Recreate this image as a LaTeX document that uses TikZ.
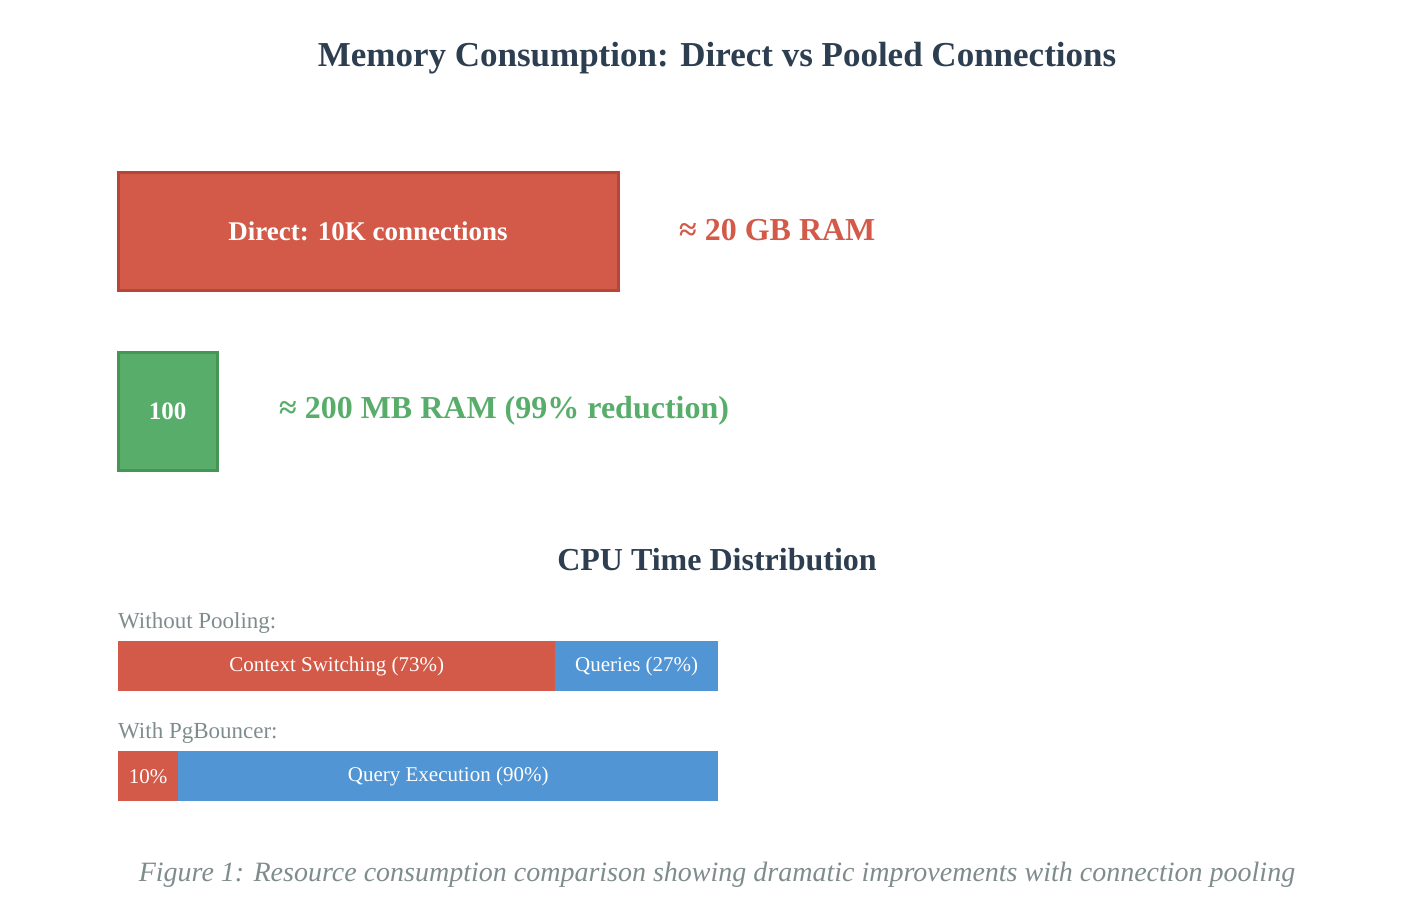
\documentclass[tikz,border=0pt]{standalone}
\usepackage{fontspec}
\setmainfont{Liberation Serif}
\definecolor{ink}{HTML}{2C3E50}
\definecolor{redf}{HTML}{D35A48}
\definecolor{redb}{HTML}{B5473A}
\definecolor{greenf}{HTML}{58AD6A}
\definecolor{greenb}{HTML}{479457}
\definecolor{bluef}{HTML}{5195D5}
\definecolor{grayt}{HTML}{7F8C8D}
\begin{document}
\begin{tikzpicture}[x=1pt,y=-1pt,
  box/.style={draw,line width=3pt,inner sep=0pt},
  bar/.style={inner sep=0pt,minimum height=50pt,text=white,font=\fontsize{21}{24}\selectfont},
  lbl/.style={anchor=west,text=grayt,font=\fontsize{23}{26}\selectfont,inner sep=0pt}]
\useasboundingbox (0,0) rectangle (1410,910);
\node[text=ink,font=\bfseries\fontsize{35}{40}\selectfont] (title) at (717,58) {Memory Consumption: Direct vs Pooled Connections};
\node[box,draw=redb,fill=redf,minimum width=500pt,minimum height=118pt,text=white,font=\bfseries\fontsize{27}{30}\selectfont] (direct) at (368,231) {Direct: 10K connections};
\node[anchor=west,inner sep=0pt,text=redf,font=\bfseries\fontsize{32}{36}\selectfont] (dram) at (679,230) {≈ 20 GB RAM};
\node[box,draw=greenb,fill=greenf,minimum width=99pt,minimum height=118pt,text=white,font=\bfseries\fontsize{25}{28}\selectfont] (pooled) at (167.5,411) {100};
\node[anchor=west,inner sep=0pt,text=greenf,font=\bfseries\fontsize{32}{36}\selectfont] (pram) at (279,411) {≈ 200 MB RAM (99\% reduction)};
\node[text=ink,font=\bfseries\fontsize{32}{36}\selectfont] (cpu) at (717,560) {CPU Time Distribution};
\node[lbl] (wo) at (118,623) {Without Pooling:};
\node[bar,fill=redf,minimum width=437pt,anchor=north west] (cs) at (118,641) {Context Switching (73\%)};
\node[bar,fill=bluef,minimum width=163pt,anchor=north west] (q) at (555,641) {Queries (27\%)};
\node[lbl] (wp) at (118,733) {With PgBouncer:};
\node[bar,fill=redf,minimum width=60pt,anchor=north west] (ten) at (118,751) {10\%};
\node[bar,fill=bluef,minimum width=540pt,anchor=north west] (qe) at (178,751) {Query Execution (90\%)};
\node[text=grayt,font=\itshape\fontsize{28}{32}\selectfont] (cap) at (717,875) {Figure 1: Resource consumption comparison showing dramatic improvements with connection pooling};
\end{tikzpicture}
\end{document}
